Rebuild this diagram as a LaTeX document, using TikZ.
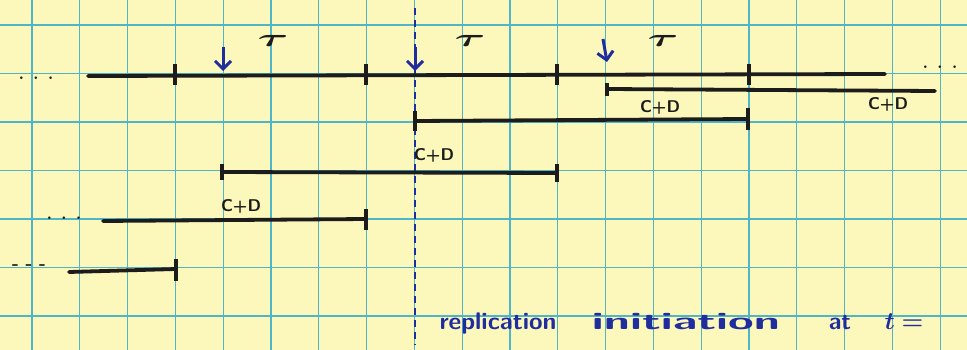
\documentclass[tikz,border=0pt]{standalone}
\usepackage{amsmath,amssymb,bm}
\usetikzlibrary{arrows.meta}
\definecolor{paper}{RGB}{252,247,186}
\definecolor{gridc}{RGB}{78,182,198}
\definecolor{ink}{RGB}{28,28,28}
\definecolor{blueink}{RGB}{32,45,158}
\begin{document}
\begin{tikzpicture}[x=1pt,y=-1pt,
  seg/.style={line width=3.8pt, ink, line cap=round},
  tickmark/.style={line width=3.4pt, ink},
  marker/.style={blueink, line width=3pt, -{Straight Barb[length=8pt,width=16pt,line width=3pt]}},
  lbl/.style={font=\sffamily\bfseries\fontsize{17}{17}\selectfont, text=ink, inner sep=0pt},
  taulbl/.style={font=\bfseries\fontsize{32}{32}\selectfont, text=ink, inner sep=0pt},
  dotlbl/.style={font=\bfseries\fontsize{18}{18}\selectfont, text=ink, inner sep=0pt},
  bluetext/.style={font=\sffamily\bfseries\fontsize{24}{24}\selectfont, text=blueink, inner sep=0pt, anchor=base},
  gridline/.style={gridc, line width=1.3pt}]
\fill[paper] (0,0) rectangle (967,350);
\useasboundingbox (0,0) rectangle (967,350);
% grid paper
\foreach \i in {0,...,19} \draw[gridline] ({32+47.8*\i},0) -- ({32+47.8*\i},350);
\foreach \j in {0,...,6} \draw[gridline] (0,{25+48.5*\j}) -- (967,{25+48.5*\j});
% dashed blue line (replication initiation)
\coordinate (vtop) at (415,8);
\coordinate (vbot) at (415,345);
\draw[blueink, line width=2pt, dash pattern=on 7pt off 5pt] (vtop) -- (vbot);
% main line
\coordinate (m0) at (88,76);
\coordinate (m1) at (885,74);
\draw[seg] (m0) -- (m1);
\foreach \x in {175,366,557,749} {
  \coordinate (t\x a) at (\x,64);
  \coordinate (t\x b) at (\x,85);
  \draw[tickmark] (t\x a) -- (t\x b);
}
% arrows and tau labels
\coordinate (a1s) at (223,47); \coordinate (a1e) at (223,71);
\coordinate (a2s) at (415,47); \coordinate (a2e) at (415,71);
\coordinate (a3s) at (603,39); \coordinate (a3e) at (607,62);
\draw[marker] (a1s) -- (a1e);
\draw[marker] (a2s) -- (a2e);
\draw[marker] (a3s) -- (a3e);
\node[taulbl] (tau1) at (273,41) {\scalebox{1.9}[1]{$\bm{\tau}$}};
\node[taulbl] (tau2) at (470,41) {\scalebox{1.9}[1]{$\bm{\tau}$}};
\node[taulbl] (tau3) at (663,41) {\scalebox{1.9}[1]{$\bm{\tau}$}};
% dots
\node[dotlbl] (dl) at (36,78) {. . .};
\node[dotlbl] (dr) at (940,67) {. . .};
\node[dotlbl] (d5) at (64,218) {. . .};
\node[dotlbl] (d6) at (29,267) {- - -};
% row 2
\coordinate (r2a) at (607,89); \coordinate (r2b) at (935,91);
\draw[seg] (r2a) -- (r2b);
\draw[tickmark] (607,83) -- (607,96);
\node[lbl] (l2) at (888,104) {C+D};
% row 3
\coordinate (r3a) at (415,121); \coordinate (r3b) at (748,119);
\draw[seg] (r3a) -- (r3b);
\draw[tickmark] (415,111) -- (415,131);
\draw[tickmark] (748,108) -- (748,130);
\node[lbl] (l3) at (660,107) {C+D};
% row 4
\coordinate (r4a) at (222,172); \coordinate (r4b) at (557,173);
\draw[seg] (r4a) -- (r4b);
\draw[tickmark] (222,164) -- (222,180);
\draw[tickmark] (557,164) -- (557,182);
\node[lbl] (l4) at (434,155) {C+D};
% row 5
\coordinate (r5a) at (103,221); \coordinate (r5b) at (366,219);
\draw[seg] (r5a) -- (r5b);
\draw[tickmark] (366,209) -- (366,230);
\node[lbl] (l5) at (241,206) {C+D};
% row 6
\coordinate (r6a) at (69,272); \coordinate (r6b) at (176,269);
\draw[seg] (r6a) -- (r6b);
\draw[tickmark] (176,259) -- (176,281);
% blue note
\node[bluetext] (w1) at (498,329) {\resizebox{117pt}{\height}{replication}};
\node[bluetext] (w2) at (686,329) {\resizebox{188pt}{\height}{initiation}};
\node[bluetext] (w3) at (840,329) {at};
\node[bluetext] (w4) at (904,329) {$\bm{t=}$};
\end{tikzpicture}
\end{document}
